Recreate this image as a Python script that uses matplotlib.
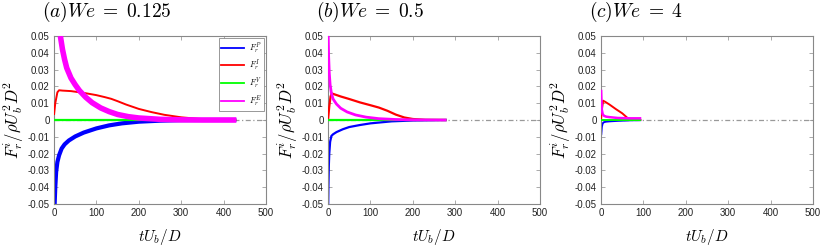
import matplotlib
matplotlib.use("Agg")
import matplotlib.pyplot as plt
from matplotlib.lines import Line2D

plt.rcParams['mathtext.fontset'] = 'cm'
plt.rcParams['font.family'] = ['Liberation Sans', 'DejaVu Sans']

titles = ["$\\mathrm{(}a\\mathrm{)}We\\;=\\;0.125$", "$\\mathrm{(}b\\mathrm{)}We\\;=\\;0.5$", "$\\mathrm{(}c\\mathrm{)}We\\;=\\;4$"]
labels = ["$F_r^P$", "$F_r^I$", "$F_r^V$", "$F_r^E$"]
colors = ["#0000ff", "#ff0000", "#00ff00", "#ff00ff"]

# Panel (a) We = 0.125
a_tP = [1.5, 3, 5, 8, 12, 18, 25, 35, 50, 70, 100, 130, 160, 200, 250, 300, 350, 430]
a_FP = [-0.05, -0.04, -0.031, -0.025, -0.021, -0.017, -0.0145, -0.0122, -0.0098, -0.0075, -0.005, -0.0032, -0.002, -0.001, -0.0004, -0.0001, 0.0, 0.0]
a_tI = [0, 3, 8, 12, 20, 40, 60, 80, 100, 120, 135, 150, 170, 200, 230, 260, 300, 340, 380, 430]
a_FI = [0.003, 0.010, 0.0165, 0.0177, 0.0175, 0.0172, 0.0165, 0.0157, 0.0148, 0.0136, 0.0126, 0.0112, 0.0092, 0.0066, 0.0047, 0.0031, 0.0016, 0.0007, 0.0002, 0.0]
a_tE = [15, 20, 25, 30, 40, 50, 60, 75, 90, 110, 130, 150, 175, 200, 250, 300, 350, 430]
a_FE = [0.05, 0.042, 0.036, 0.031, 0.025, 0.021, 0.0175, 0.0135, 0.0103, 0.0072, 0.005, 0.0033, 0.002, 0.0012, 0.0004, 0.0001, 0.0, 0.0]
a_tV = [0, 430]
a_FV = [0.0, 0.0]

# Panel (b) We = 0.5
b_tP = [0.5, 1, 2, 3, 5, 8, 12, 20, 35, 50, 75, 100, 150, 200, 280]
b_FP = [-0.05, -0.04, -0.027, -0.02, -0.013, -0.0095, -0.0085, -0.0072, -0.0055, -0.0042, -0.003, -0.002, -0.0008, -0.0003, 0.0]
b_tI = [0, 3, 6, 9, 15, 30, 50, 75, 100, 120, 140, 160, 180, 200, 230, 280]
b_FI = [0.0, 0.008, 0.014, 0.0158, 0.0153, 0.014, 0.0125, 0.0105, 0.0088, 0.0074, 0.0055, 0.0032, 0.0015, 0.0006, 0.0001, 0.0]
b_tE = [0.5, 1.5, 3, 5, 8, 12, 20, 30, 45, 65, 90, 120, 160, 200, 280]
b_FE = [0.05, 0.038, 0.028, 0.021, 0.016, 0.0125, 0.0095, 0.007, 0.0048, 0.003, 0.0017, 0.0008, 0.0003, 0.0001, 0.0]
b_tV = [0, 280]
b_FV = [0.0, 0.0]

# Panel (c) We = 4
c_tP = [0.5, 2, 4, 7, 12, 20, 40, 70, 95]
c_FP = [-0.009, -0.004, -0.002, -0.0013, -0.001, -0.0008, -0.0005, -0.0002, -0.0001]
c_tI = [0, 2, 5, 10, 20, 35, 50, 68, 80, 95]
c_FI = [0.0, 0.006, 0.0115, 0.0108, 0.0092, 0.0065, 0.004, 0.0, 0.0, 0.0]
c_tE = [0.3, 1, 2, 4, 7, 12, 20, 40, 70, 95]
c_FE = [0.018, 0.012, 0.006, 0.0035, 0.0025, 0.002, 0.0017, 0.0012, 0.001, 0.001]
c_tV = [0, 95]
c_FV = [0.0, 0.0]

panels = [
    (a_tP, a_FP, a_tI, a_FI, a_tV, a_FV, a_tE, a_FE, [3.0, 1.4, 1.6, 4.0]),
    (b_tP, b_FP, b_tI, b_FI, b_tV, b_FV, b_tE, b_FE, [1.6, 1.6, 1.6, 2.0]),
    (c_tP, c_FP, c_tI, c_FI, c_tV, c_FV, c_tE, c_FE, [1.4, 1.4, 1.4, 1.8]),
]

xticks = [0, 100, 200, 300, 400, 500]
yticks = [-0.05, -0.04, -0.03, -0.02, -0.01, 0, 0.01, 0.02, 0.03, 0.04, 0.05]
ytick_labels = ["-0.05", "-0.04", "-0.03", "-0.02", "-0.01", "0", "0.01", "0.02", "0.03", "0.04", "0.05"]

W, H = 822, 247
fig = plt.figure(figsize=(W / 100, H / 100), dpi=100)
lefts = [54, 328, 601]
aw = 212
top, bottom = 36, 204

for k, (p, left) in enumerate(zip(panels, lefts)):
    ax = fig.add_axes([left / W, 1 - bottom / H, aw / W, (bottom - top) / H])
    tP, FP, tI, FI, tV, FV, tE, FE, lws = p
    ax.plot([0, 500], [0, 0], color="#999999", lw=0.9, ls=(0, (4, 2, 1, 2)), zorder=1)
    series = [(tP, FP), (tI, FI), (tV, FV), (tE, FE)]
    for i in range(4):
        t, f = series[i]
        ax.plot(t, f, color=colors[i], lw=lws[i], zorder=2 + i,
                solid_capstyle='butt')
    ax.set_xlim(0, 500)
    ax.set_ylim(-0.05, 0.05)
    ax.set_xticks(xticks)
    ax.set_yticks(yticks)
    ax.set_yticklabels(ytick_labels)
    ax.tick_params(direction='in', top=True, right=True, length=3, width=0.5,
                   labelsize=7, pad=3)
    ax.tick_params(axis='both', colors="#888888", labelcolor="#222222")
    for s in ax.spines.values():
        s.set_color("#888888")
        s.set_linewidth(0.8)
    ax.set_xlabel("$tU_b/D$", fontsize=11, labelpad=6.5)
    ax.set_ylabel("$F_r^i/\\rho U_b^2 D^2$", fontsize=12, labelpad=1)
    fig.text((left - 12) / W, 1 - 12 / H, titles[k], fontsize=14, ha='left', va='center')
    if k == 0:
        handles = [Line2D([], [], color=c, lw=1.3) for c in colors]
        leg = ax.legend(handles, labels, loc='upper right', fontsize=6, handlelength=2.8,
                        borderpad=0.3, labelspacing=0.3, fancybox=False, framealpha=1,
                        edgecolor="#888888", borderaxespad=0.25, handletextpad=0.5)
        leg.get_frame().set_linewidth(0.6)

fig.savefig("out.png", dpi=100)
